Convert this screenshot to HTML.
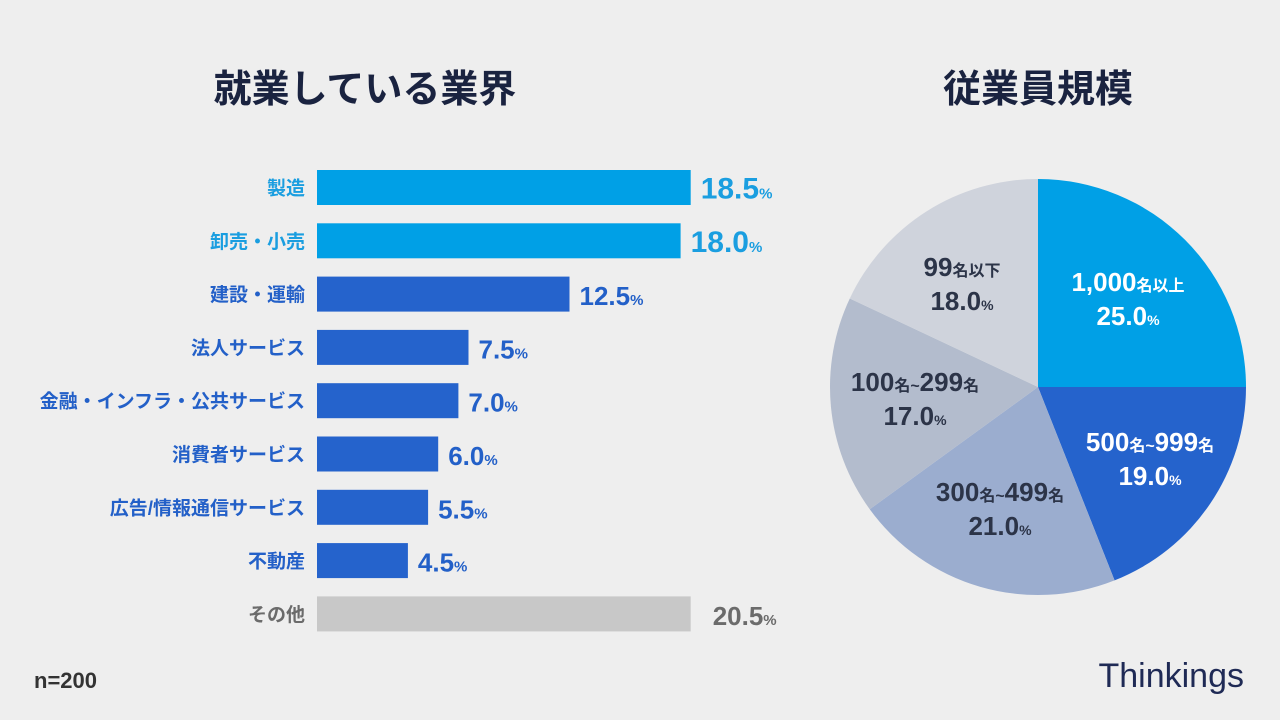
<!DOCTYPE html>
<html><head><meta charset="utf-8">
<style>
html,body{margin:0;padding:0;background:#eeeeee;}
svg{display:block;font-family:"Liberation Sans","Noto Sans CJK JP",sans-serif;}
.num{font-family:"Liberation Sans Narrow","Liberation Sans","Noto Sans CJK JP",sans-serif;font-weight:bold;}
</style></head>
<body>
<svg id="chart" width="1280" height="720" viewBox="0 0 1280 720">
<rect width="1280" height="720" fill="#eeeeee"/>
<text x="365" y="102" text-anchor="middle" font-size="38" font-weight="bold" fill="#1a2340">就業している業界</text>
<text x="1038" y="102" text-anchor="middle" font-size="38" font-weight="bold" fill="#1a2340">従業員規模</text>
<g id="bars"></g>
<g id="pie"></g>
<text x="34" y="688" font-size="22" font-weight="bold" fill="#333" class="num">n=200</text>
<text x="1244" y="687" text-anchor="end" font-size="34" fill="#1f2a55" font-family="Liberation Sans Narrow, Liberation Sans, sans-serif">Thinkings</text>
</svg>
<script>
const categories=["製造","卸売・小売","建設・運輸","法人サービス","金融・インフラ・公共サービス","消費者サービス","広告/情報通信サービス","不動産","その他"];
const values=[18.5,18.0,12.5,7.5,7.0,6.0,5.5,4.5,20.5];
const barColors=["#00a0e6","#00a0e6","#2563cc","#2563cc","#2563cc","#2563cc","#2563cc","#2563cc","#c8c8c8"];
const labelColors=["#1a9ee0","#1a9ee0","#2360c8","#2360c8","#2360c8","#2360c8","#2360c8","#2360c8","#6b6b6b"];
const pieLabels=[["1,000","名以上"],["500","名~","999","名"],["300","名~","499","名"],["100","名~","299","名"],["99","名以下"]];
const pieValues=[25.0,19.0,21.0,17.0,18.0];
const pieColors=["#00a0e6","#2563cc","#9badcf","#b3bccd","#cfd3dc"];
const pieText=["#ffffff","#ffffff","#2c3448","#2c3448","#2c3448"];
const NS="http://www.w3.org/2000/svg";
function mk(t,a,p){const e=document.createElementNS(NS,t);for(const k in a)e.setAttribute(k,a[k]);p.appendChild(e);return e;}
const x0=317,scale=20.2,capMax=18.5;
function xs(v){return x0+Math.min(v,capMax)*scale;}
function yb(i){return 170+i*53.3;}
const bg=document.getElementById('bars');
categories.forEach((c,i)=>{
 const y=yb(i),h=35;
 const r=mk('rect',{x:x0,y:y,width:xs(values[i])-x0,height:h,fill:barColors[i]},bg);
 
 
 const t=mk('text',{x:305,y:y+h/2+7,'text-anchor':'end','font-size':19,'font-weight':'bold',fill:labelColors[i]},bg);
 t.textContent=c;
 
 
 const v=mk('text',{x:xs(values[i])+10+(i==8?12:0),y:y+h/2+11,'font-size':i<2?30:26,fill:labelColors[i],'class':'num'},bg);
 v.innerHTML=values[i].toFixed(1)+'<tspan font-size="15">%</tspan>';
 
 
});
const pg=document.getElementById('pie');
const cx=1038,cy=387,R=208;
let acc=0;
const lpos=[[1128,300],[1150,460],[1000,510],[915,400],[962,285]];
pieValues.forEach((v,i)=>{
 const a0=acc/100*2*Math.PI;acc+=v;const a1=acc/100*2*Math.PI;
 const p0=[cx+R*Math.sin(a0),cy-R*Math.cos(a0)],p1=[cx+R*Math.sin(a1),cy-R*Math.cos(a1)];
 const large=(a1-a0)>Math.PI?1:0;
 const s=mk('path',{d:`M${cx},${cy}L${p0[0]},${p0[1]}A${R},${R} 0 ${large} 1 ${p1[0]},${p1[1]}Z`,fill:pieColors[i]},pg);
 
 
 const [lx,ly]=lpos[i];
 const t1=mk('text',{x:lx,y:ly-9,'text-anchor':'middle',fill:pieText[i],'class':'num','font-size':26},pg);
 t1.innerHTML=pieLabels[i].map((s,j)=>/[名]/.test(s)?'<tspan font-size="16">'+s+'</tspan>':s).join('');
 
 
 const t2=mk('text',{x:lx,y:ly+25,'text-anchor':'middle',fill:pieText[i],'class':'num','font-size':26},pg);
 t2.innerHTML=v.toFixed(1)+'<tspan font-size="14">%</tspan>';
 
 
});
</script>
</body></html>
